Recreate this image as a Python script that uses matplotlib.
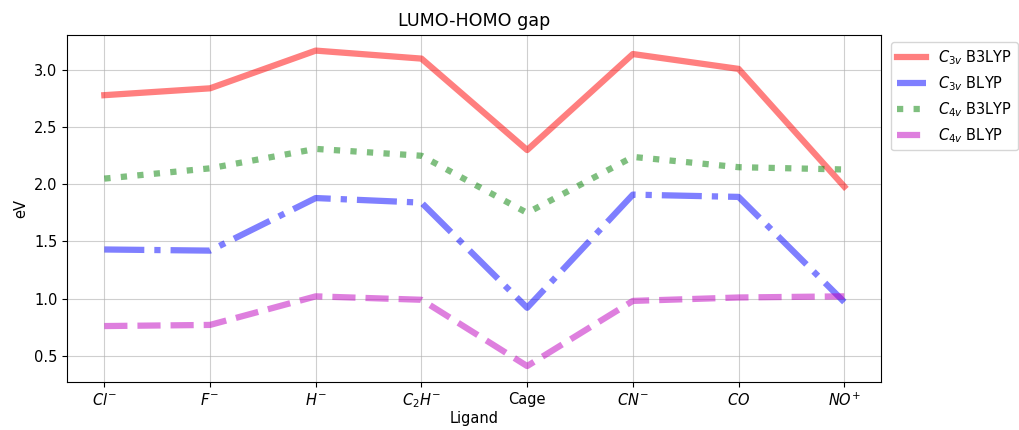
"""LUMO-HOMO gap per ligand for C3v / C4v geometries."""

import matplotlib

matplotlib.use("Agg")
import matplotlib.pyplot as plt

ligands = [r"$Cl^{-}$", r"$F^{-}$", r"$H^{-}$", r"$C_2H^{-}$", "Cage",
           r"$CN^{-}$", r"$CO$", r"$NO^{+}$"]

c3v_b3lyp = [2.78, 2.84, 3.17, 3.10, 2.30, 3.14, 3.01, 1.98]
c3v_blyp = [1.43, 1.42, 1.88, 1.84, 0.92, 1.91, 1.89, 0.97]
c4v_b3lyp = [2.05, 2.14, 2.31, 2.25, 1.75, 2.24, 2.15, 2.13]
c4v_blyp = [0.76, 0.77, 1.02, 0.99, 0.41, 0.98, 1.01, 1.02]

plt.rcParams["font.size"] = 10.5

fig, ax = plt.subplots(figsize=(10.2, 4.3), dpi=100)
x = range(len(ligands))
lw = 4.5
ax.plot(x, c3v_b3lyp, "r-", lw=lw, alpha=0.5, label=r"$C_{3v}$ B3LYP")
ax.plot(x, c3v_blyp, "b-.", lw=lw, alpha=0.5, label=r"$C_{3v}$ BLYP")
ax.plot(x, c4v_b3lyp, "g:", lw=lw, alpha=0.5, label=r"$C_{4v}$ B3LYP")
ax.plot(x, c4v_blyp, "m--", lw=lw, alpha=0.5, label=r"$C_{4v}$ BLYP")

ax.set_xticks(list(x))
ax.set_xticklabels(ligands)
ax.set_xlabel("Ligand", labelpad=0.5)
ax.set_ylabel("eV")
ax.set_title("LUMO-HOMO gap")
ax.grid(True, alpha=0.6)
ax.legend(loc="upper left", bbox_to_anchor=(1.003, 1.0))

fig.subplots_adjust(left=0.066, right=0.864, top=0.919, bottom=0.112)
fig.savefig("out.png")
